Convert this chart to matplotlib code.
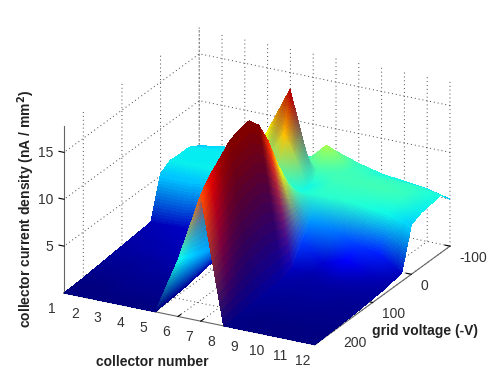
import numpy as np
import matplotlib
matplotlib.use('Agg')
import matplotlib.pyplot as plt
from mpl_toolkits.mplot3d import proj3d

plt.rcParams['font.family'] = ['Liberation Sans', 'DejaVu Sans']

collector = [1, 2, 3, 4, 5, 6, 7, 8, 9, 10, 11, 12]
voltage = [-100, -75, -55, -40, -25, 0, 25, 50, 75, 100, 125, 150, 175, 200, 225, 250]

# current density, one row per voltage, one column per collector
density = [
    [5.2, 5.6, 5.8, 5.8, 6.0, 6.6, 7.6, 6.8, 6.2, 5.9, 5.6, 5.0],
    [5.8, 5.8, 5.8, 5.9, 6.3, 6.6, 9.0, 7.0, 6.7, 6.7, 6.6, 6.2],
    [5.8, 5.8, 5.8, 5.9, 6.5, 7.0, 7.2, 7.0, 6.9, 6.9, 6.7, 6.0],
    [5.8, 5.8, 5.9, 6.2, 10.5, 15.5, 6.5, 7.0, 7.0, 7.0, 6.8, 5.9],
    [5.9, 5.9, 5.9, 5.9, 7.0, 11.5, 6.0, 6.8, 6.8, 6.8, 6.6, 5.8],
    [5.2, 5.2, 5.2, 5.1, 5.5, 7.0, 6.2, 6.5, 6.5, 6.3, 6.0, 5.3],
    [0.8, 0.9, 1.0, 1.1, 1.2, 4.5, 8.0, 4.5, 4.0, 3.0, 2.5, 0.85],
    [0.7, 0.8, 0.9, 1.0, 1.1, 4.5, 10.6, 3.0, 1.2, 2.0, 0.9, 0.7],
    [0.6, 0.7, 0.8, 0.9, 1.0, 4.5, 13.9, 1.0, 0.7, 0.8, 0.6, 0.5],
    [0.5, 0.6, 0.7, 0.8, 0.9, 4.5, 16.4, 0.6, 0.5, 0.5, 0.4, 0.4],
    [0.4, 0.4, 0.5, 0.6, 0.7, 4.5, 17.6, 0.5, 0.4, 0.4, 0.3, 0.3],
    [0.3, 0.3, 0.4, 0.4, 0.5, 4.5, 17.4, 0.4, 0.3, 0.3, 0.2, 0.2],
    [0.2, 0.2, 0.3, 0.3, 0.3, 4.7, 17.0, 0.3, 0.2, 0.2, 0.15, 0.15],
    [0.1, 0.1, 0.2, 0.2, 0.2, 5.0, 15.9, 0.2, 0.1, 0.1, 0.1, 0.1],
    [0.05, 0.05, 0.1, 0.1, 0.1, 5.5, 14.9, 0.1, 0.05, 0.05, 0.05, 0.05],
    [0.0, 0.0, 0.0, 0.0, 0.0, 6.0, 13.5, 0.0, 0.0, 0.0, 0.0, 0.0],
]

x_ticks = [1, 2, 3, 4, 5, 6, 7, 8, 9, 10, 11, 12]
y_ticks = [-100, 0, 100, 200]
z_ticks = [5, 10, 15]

z = np.array(density)
rgb = plt.cm.jet(np.clip(z / 16.3, 0, 1))


def refine(a, nr=16, nc=16):
    # bilinear subdivision so the colours blend inside each cell like gouraud shading
    rows, cols = a.shape[:2]
    u = np.linspace(0, rows - 1, (rows - 1) * nr + 1)
    v = np.linspace(0, cols - 1, (cols - 1) * nc + 1)
    i = np.minimum(u.astype(int), rows - 2)
    j = np.minimum(v.astype(int), cols - 2)
    fu = u - i
    fv = v - j
    if a.ndim == 3:
        fu = fu[:, None, None]
        fv = fv[None, :, None]
    else:
        fu = fu[:, None]
        fv = fv[None, :]
    return ((1 - fu) * (1 - fv) * a[i][:, j] + (1 - fu) * fv * a[i][:, j + 1]
            + fu * (1 - fv) * a[i + 1][:, j] + fu * fv * a[i + 1][:, j + 1])


X, Y = np.meshgrid(np.array(collector, float), np.array(voltage, float))

fig = plt.figure(figsize=(4.98, 3.88), dpi=100)
ax = fig.add_axes([0.1, 0.1, 0.8, 0.8], projection='3d')
ax.set_proj_type('ortho')
ax.view_init(elev=22.8, azim=-62)
ax.set_box_aspect((284, 288, 181))
ax.set_xlim(1, 12, view_margin=0)
ax.set_ylim(250, -100, view_margin=0)
ax.set_zlim(0, 17.8, view_margin=0)

ax.plot_surface(refine(X), refine(Y), refine(z), facecolors=np.clip(refine(rgb), 0, 1),
                rstride=1, cstride=1, shade=False, linewidth=0, antialiased=False)

ax.set_xticks(x_ticks)
ax.set_yticks(y_ticks)
ax.set_zticks(z_ticks)
ax.set_xticklabels([])
ax.set_yticklabels([])
ax.set_zticklabels([])
for axis in (ax.xaxis, ax.yaxis, ax.zaxis):
    axis.set_pane_color((1, 1, 1, 0))
    axis.line.set_color('#666666')
    axis.line.set_linewidth(0.8)
    axis._axinfo['grid'].update(color='#444444', linewidth=0.7, linestyle=(0, (1, 3)))
    axis._axinfo['tick'].update(inward_factor=0.0, outward_factor=0.25, color='#666666')
ax.zaxis.set_ticks_position('upper')

# place the box so that its floor corners land where they are in the picture
target_left = np.array([64.0, 388 - 293.0])
target_right = np.array([450.0, 388 - 247.0])


def corner(px, py, pz):
    u, v, _ = proj3d.proj_transform(px, py, pz, ax.get_proj())
    return ax.transData.transform((u, v))


for _ in range(3):
    fig.canvas.draw()
    a = corner(1, 250, 0)
    b = corner(12, -100, 0)
    scale = (target_right[0] - target_left[0]) / (b[0] - a[0])
    l, bt, w, h = ax.get_position().bounds
    w2, h2 = w * scale, h * scale
    cx, cy = l + w / 2, bt + h / 2
    ax.set_position([cx - w2 / 2, cy - h2 / 2, w2, h2])
    fig.canvas.draw()
    a = corner(1, 250, 0)
    l, bt, w, h = ax.get_position().bounds
    ax.set_position([l + (target_left[0] - a[0]) / 498, bt + (target_left[1] - a[1]) / 388, w, h])
fig.canvas.draw()


def tick_label(pos, dx, dy, text, ha):
    # label next to the projected tick, offset in pixels
    fig.text((pos[0] + dx) / 498, (pos[1] + dy) / 388, text, fontsize=10, color='#333333',
             ha=ha, va='center')


for v in x_ticks:
    tick_label(corner(v, 250, 0), -12, -16, str(v), 'center')
for v in y_ticks:
    tick_label(corner(12, v, 0), 9, -12, str(v), 'left')
for v in z_ticks:
    tick_label(corner(1, 250, v), -11, -1, str(v), 'right')

fig.text(152 / 498, 1 - 362 / 388, 'collector number', fontsize=10, fontweight='bold',
         color='#222222', ha='center', va='center')
fig.text(425 / 498, 1 - 331 / 388, 'grid voltage (-V)', fontsize=10, fontweight='bold',
         color='#222222', ha='center', va='center')
fig.text(26 / 498, 1 - 209 / 388, 'collector current density (nA / mm$^{\\mathbf{2}}$)',
         fontsize=10, fontweight='bold', color='#222222', rotation=90, ha='center', va='center')

fig.savefig('out.png', dpi=100)
